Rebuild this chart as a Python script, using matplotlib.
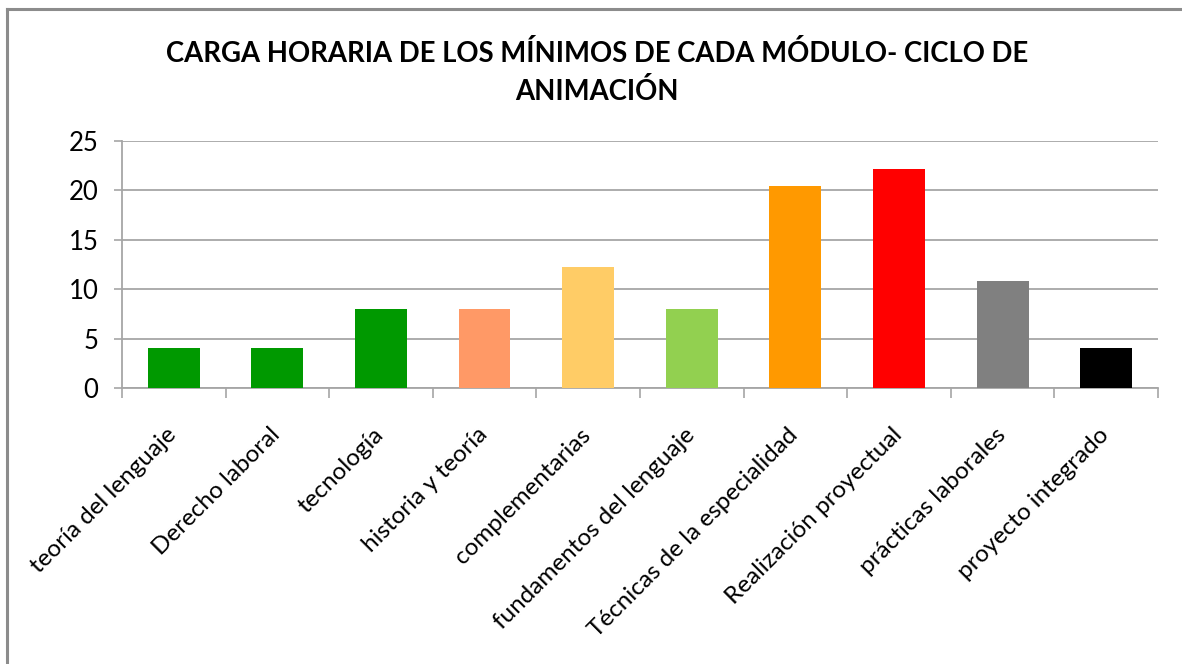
import matplotlib
matplotlib.use("Agg")
import matplotlib.pyplot as plt
import matplotlib.transforms as mtransforms
import numpy as np

# data
modules = [
    "teoría del lenguaje",
    "Derecho laboral",
    "tecnología",
    "historia y teoría",
    "complementarias",
    "fundamentos del lenguaje",
    "Técnicas de la especialidad",
    "Realización proyectual",
    "prácticas laborales",
    "proyecto integrado",
]
hours = [4, 4, 8, 8, 12.2, 8, 20.4, 22.2, 10.8, 4]
bar_colors = [
    "#009900", "#009900", "#009900", "#FF9966", "#FFCC66",
    "#92D050", "#FF9900", "#FF0000", "#808080", "#000000",
]
y_ticks = [0, 5, 10, 15, 20, 25]
title = "CARGA HORARIA DE LOS MÍNIMOS DE CADA MÓDULO- CICLO DE\nANIMACIÓN"


def main():
    plt.rcParams["font.family"] = ["Lato", "DejaVu Sans"]
    grid_col = "#a6a6a6"

    fig = plt.figure(figsize=(11.82, 6.64), dpi=100)
    ax = fig.add_axes([0.1032, 0.4157, 0.8765, 0.372])

    x = np.arange(len(modules))
    ax.bar(x, hours, width=0.5, color=bar_colors, zorder=3)

    ax.set_xlim(-0.5, len(modules) - 0.5)
    ax.set_ylim(0, 25)
    ax.set_yticks(y_ticks)
    ax.yaxis.grid(True, color=grid_col, linewidth=1.3, zorder=0)

    ax.set_xticks(np.arange(len(modules) + 1) - 0.5)
    ax.set_xticklabels([])
    ax.set_xticks(x, minor=True)
    ax.set_xticklabels(modules, minor=True, rotation=45, ha="right",
                       rotation_mode="anchor", fontsize=17.5)
    ax.tick_params(axis="x", which="minor", length=0, pad=26)
    ax.tick_params(axis="x", which="major", length=7, color=grid_col,
                   width=1.2)
    ax.tick_params(axis="y", length=6, color=grid_col, width=1.2,
                   labelsize=18.5, pad=11)

    # shift category labels a bit to the left, like the original
    shift = mtransforms.ScaledTranslation(-8 / 100, 0, fig.dpi_scale_trans)
    for lbl in ax.get_xticklabels(minor=True):
        lbl.set_transform(lbl.get_transform() + shift)

    for side in ("top", "right"):
        ax.spines[side].set_visible(False)
    for side in ("left", "bottom"):
        ax.spines[side].set_color(grid_col)
        ax.spines[side].set_linewidth(1.3)

    fig.text(0.505, 0.891, title, ha="center", va="center",
             fontsize=19.8, fontweight="bold", linespacing=1.52)

    # chart area border (top and left edges only are visible)
    fig.add_artist(plt.Line2D([0.0055, 1.0], [0.987, 0.987],
                              transform=fig.transFigure, color="#8c8c8c",
                              linewidth=2.2))
    fig.add_artist(plt.Line2D([0.0059, 0.0059], [0.0, 0.987],
                              transform=fig.transFigure, color="#8c8c8c",
                              linewidth=2.2))

    fig.savefig("out.png", dpi=100, facecolor="white")


if __name__ == "__main__":
    main()
